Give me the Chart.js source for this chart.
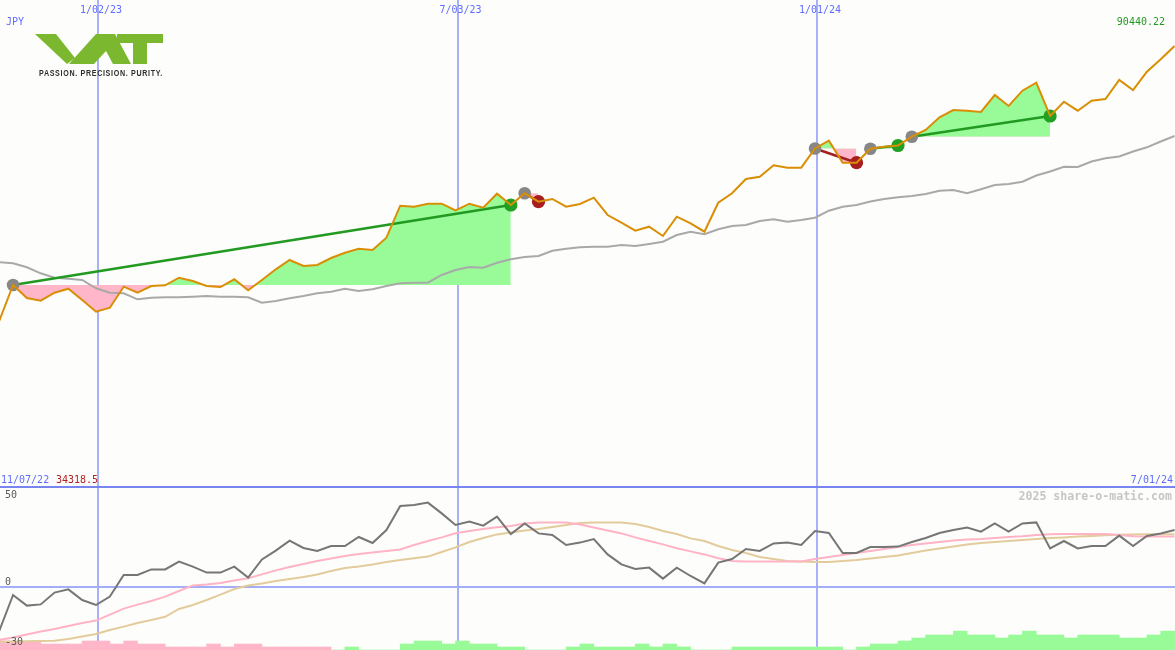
<!DOCTYPE html>
<html>
<head>
<meta charset="utf-8">
<script src="https://cdn.jsdelivr.net/npm/chart.js@4.4.1/dist/chart.umd.min.js"></script>
<style>
  html, body { margin: 0; padding: 0; background: #fdfefb; }
  #wrap { position: relative; width: 1175px; height: 650px; overflow: hidden; background: #fdfefb; }
  #top { position: absolute; left: 0; top: 0; width: 1175px; height: 487px; }
  #bottom { position: absolute; left: 0; top: 486px; width: 1175px; height: 164px; background: #fdfefb; }
</style>
</head>
<body>
<div id="wrap">
  <canvas id="top" width="1175" height="487"></canvas>
  <canvas id="bottom" width="1175" height="164"></canvas>
</div>
<script>
// weekly data, week 0 = week ending Sun 1 Jan 2023
const firstWeek = -8;

// weekly close (JPY)
const price = [
  34318.5, 34043, 41426, 38760, 38206, 39847, 40667, 38350, 35951, 36771,
  41078, 39847, 41221, 41365, 42923, 42246, 41221, 41016, 42595, 40339,
  42452, 44646, 46553, 45323, 45528, 46963, 48050, 48871, 48604, 51126,
  57689, 57484, 58099, 58099, 56746, 58099, 57279, 60150, 57833, 60232,
  58509, 59063, 57484, 58038, 59330, 55782, 54203, 52562, 53382, 51475,
  55433, 54080, 52357, 58304, 60232, 63165, 63636, 65974, 65482, 65482,
  69420, 71019, 66507, 66507, 69379, 69789, 70035, 71839, 73214, 75818,
  77315, 77172, 76905, 80391, 78135, 81273, 82914, 76085, 79017, 77172,
  79222, 79571, 83468, 81417, 85170, 87713, 90440.22
];

// moving average (grey)
const average = [
  46348, 46081, 45876, 45056, 43826, 42923, 42718, 42452, 40749, 39847,
  39724, 38494, 38822, 38904, 38904, 39027, 39170, 39027, 39027, 38904,
  37796, 38145, 38699, 39170, 39724, 40052, 40667, 40196, 40544, 41221,
  41775, 41898, 41898, 43477, 44502, 45118, 44974, 45999, 46697, 47168,
  47373, 48460, 48871, 49158, 49281, 49281, 49629, 49424, 49834, 50306,
  51680, 52357, 51824, 52849, 53526, 53731, 54551, 54898, 54408, 54756,
  55228, 56664, 57484, 57833, 58550, 59063, 59412, 59678, 60088, 60765,
  60909, 60232, 61052, 61934, 62139, 62611, 63882, 64703, 65687, 65626,
  66754, 67410, 67779, 68804, 69665, 70855, 71983
];

// lower panel: oscillator and its two signal lines
const osc = [
  -25, -22, -4, -9.3, -8.7, -2.8, -1.2, -6.5, -9, -4.8,
  6, 6, 8.8, 8.8, 12.7, 10.2, 7.2, 7.2, 10.2, 4.7,
  13.8, 18.2, 23.2, 19.5, 18, 20.5, 20.5, 25, 22, 28.5,
  40.5, 41, 42.2, 36.8, 31, 32.7, 30.7, 35.2, 26.5, 31.8,
  26.8, 26, 21, 22.2, 24, 16.3, 11.3, 9, 9.7, 4.2,
  9.7, 5.5, 1.8, 12.2, 14, 19, 18, 21.8, 22.3, 21,
  28, 27, 17, 17, 20, 20, 20.2, 22.5, 24.5, 27,
  28.5, 29.7, 27.7, 31.8, 27.7, 31.8, 32.3, 19.3, 23, 19.3,
  20.5, 20.5, 25.7, 20.5, 25.5, 26.8, 28.5
];
const oscFast = [
  -27.5, -26.5, -25.3, -23.8, -22.3, -21, -19.5, -18, -16.8, -13.8,
  -10.8, -8.8, -7, -4.8, -2, 0.8, 1.3, 2, 3.3, 4.4,
  6.3, 8.3, 10, 11.5, 13, 14.3, 15.5, 16.5, 17.3, 18,
  18.8, 21, 23, 24.8, 26.9, 28, 29, 29.9, 30.5, 31.8,
  32.2, 32.2, 32.2, 31.3, 29.8, 28.3, 26.8, 24.8, 23, 21.3,
  19.4, 17.8, 16.3, 14.4, 13, 12.7, 12.7, 12.7, 12.7, 12.8,
  14, 15, 16, 17, 18, 19, 20, 21, 21.8, 22.5,
  23.2, 23.7, 24, 24.5, 25, 25.4, 26, 26.4, 26.5, 26.5,
  26.5, 26.5, 26, 25.4, 25.2, 25.2, 25.2
];
const oscSlow = [
  -27.5, -27.4, -27.3, -27.1, -27, -26.9, -26, -24.8, -23.5, -21.5,
  -19.8, -18, -16.5, -14.9, -11, -9, -6.5, -3.8, -1, 0.7,
  1.8, 3, 4, 5, 6.3, 8, 9.5, 10.3, 11.3, 12.5,
  13.5, 14.4, 15.2, 17.5, 19.8, 22.5, 24.5, 26.3, 27.3, 28.3,
  29, 30, 31, 32, 32.2, 32.2, 32.2, 31.5, 30, 28,
  26.5, 24.3, 23, 20.5, 18.5, 17, 15, 14, 13, 12.7,
  12.5, 12.5, 13, 13.5, 14.3, 15, 15.8, 17, 18.3, 19.3,
  20.3, 21.3, 22, 22.5, 23, 23.5, 24, 24.5, 24.8, 25.2,
  25.5, 25.9, 26.1, 26.3, 26.4, 26.4, 26.4
];
// histogram strength, negative = pink
const hist = [
  -3, -3, -2.7, -2.7, -2, -2, -2, -3, -3, -2,
  -3, -2, -2, -1, -1, -1, -2, -1, -2, -2,
  -1, -1, -1, -1, -1, 0, 1, 0, 0, 0,
  2, 3, 3, 2, 3, 2, 2, 1, 1, 0,
  0, 0, 1, 2, 1, 1, 1, 2, 1, 2,
  1, 0, 0, 0, 1, 1, 1, 1, 1, 1,
  1, 1, 0, 1, 2, 2, 3, 4, 5, 5,
  6.3, 5, 5, 4, 5, 6.3, 5, 5, 4, 5,
  5, 5, 4, 4, 5, 6.3, 6.3
];

// trades (week numbers)
const tradeEntry = [-6, 31, 52, 56, 59];
const tradeExit = [30, 32, 55, 58, 69];

// date lines, in days from Mon 2 Jan 2023
const dateTicks = [0, 182, 364];
const dateLabels = ['1/02/23', '7/03/23', '1/01/24'];
const oscTicks = [50, 0, -30];

const startLabel = '11/07/22';
const endLabel = '7/01/24';
const currency = 'JPY';

const GREEN_FILL = '#98fb98';
const PINK_FILL = '#ffb6c8';
const MONO = '"DejaVu Sans Mono", monospace';

const dayOf = w => w * 7 - 1;
const idx = w => w - firstWeek;
const toPoints = arr => arr.map((v, i) => ({ x: dayOf(i + firstWeek), y: v }));
const pricePts = toPoints(price);

const xMin = -49.61;
const xMax = 545.23;

const baseOptions = (yScales) => ({
  responsive: false,
  animation: false,
  events: [],
  layout: { padding: 0, autoPadding: false },
  plugins: { legend: { display: false }, tooltip: { enabled: false } },
  elements: { line: { tension: 0 }, point: { radius: 0 } },
  scales: Object.assign({
    x: { type: 'linear', display: false, min: xMin, max: xMax, offset: false }
  }, yScales)
});

function drawDateLines(chart) {
  const { ctx, chartArea, scales } = chart;
  ctx.save();
  ctx.strokeStyle = '#a6b1fa';
  ctx.lineWidth = 2;
  dateTicks.forEach(d => {
    const x = Math.round(scales.x.getPixelForValue(d));
    ctx.beginPath();
    ctx.moveTo(x, chartArea.top);
    ctx.lineTo(x, chartArea.bottom);
    ctx.stroke();
  });
  ctx.restore();
}

function drawLogo(ctx) {
  ctx.save();
  ctx.fillStyle = '#7cb82f';
  const poly = p => {
    ctx.beginPath();
    p.forEach(([x, y], i) => i ? ctx.lineTo(x, y) : ctx.moveTo(x, y));
    ctx.closePath();
    ctx.fill();
  };
  poly([[35, 34], [56, 34], [75, 58], [67, 64]]);
  poly([[69, 64], [96, 34], [115, 34], [131, 64], [113, 64], [106, 51], [94, 64]]);
  poly([[117, 34], [163, 34], [163, 43], [147, 43], [147, 64], [133, 64], [133, 43], [117, 43]]);
  ctx.fillStyle = '#2e2e2e';
  ctx.font = 'bold 8.5px "Liberation Sans", Arial, sans-serif';
  ctx.letterSpacing = '0.8px';
  ctx.textBaseline = 'alphabetic';
  ctx.fillText('PASSION. PRECISION. PURITY.', 39, 75.5, 124);
  ctx.restore();
}

const topPlugin = {
  id: 'topDecor',
  beforeDatasetsDraw(chart) {
    drawDateLines(chart);
  },
  afterDraw(chart) {
    const { ctx, scales } = chart;
    ctx.save();
    ctx.font = '10px ' + MONO;
    ctx.textBaseline = 'alphabetic';
    ctx.fillStyle = '#5f6cff';
    ctx.textAlign = 'center';
    dateTicks.forEach((d, i) => {
      ctx.fillText(dateLabels[i], scales.x.getPixelForValue(d) + 3, 13);
    });
    ctx.textAlign = 'left';
    ctx.fillText(currency, 6, 25);
    ctx.fillText(startLabel, 1, 483);
    ctx.textAlign = 'right';
    ctx.fillText(endLabel, 1173, 483);
    ctx.fillStyle = '#229922';
    ctx.fillText(String(price[price.length - 1]), 1165, 25);
    ctx.textAlign = 'left';
    ctx.fillStyle = '#b01e1e';
    ctx.fillText(String(price[0]), 56, 483);
    ctx.restore();
    drawLogo(ctx);
  }
};

const fillSets = tradeEntry.map((e, t) => ({
  data: pricePts.slice(idx(e), idx(tradeExit[t]) + 1),
  borderWidth: 0,
  pointRadius: 0,
  fill: { target: { value: price[idx(e)] }, above: GREEN_FILL, below: PINK_FILL },
  order: 10
}));

const isWin = t => price[idx(tradeExit[t])] >= price[idx(tradeEntry[t])];

const tradeLineSets = tradeEntry.map((e, t) => ({
  data: [pricePts[idx(e)], pricePts[idx(tradeExit[t])]],
  borderColor: isWin(t) ? '#229a22' : '#a32020',
  borderWidth: 2.5,
  pointRadius: 0,
  fill: false,
  order: 4
}));

new Chart(document.getElementById('top'), {
  type: 'line',
  data: {
    datasets: [
      ...fillSets,
      {
        data: toPoints(average),
        borderColor: '#a9a9a9',
        borderWidth: 2,
        pointRadius: 0,
        fill: false,
        order: 6
      },
      ...tradeLineSets,
      {
        data: tradeEntry.map(e => pricePts[idx(e)]),
        showLine: false,
        pointRadius: 6.3,
        pointBorderWidth: 0,
        pointBackgroundColor: '#878787',
        order: 3
      },
      {
        data: tradeExit.map(x => pricePts[idx(x)]),
        showLine: false,
        pointRadius: 6.6,
        pointBorderWidth: 0,
        pointBackgroundColor: tradeExit.map((x, t) => isWin(t) ? '#23a023' : '#a81e1e'),
        order: 2
      },
      {
        data: pricePts,
        borderColor: '#d98e05',
        borderWidth: 2,
        pointRadius: 0,
        fill: false,
        order: 1
      }
    ]
  },
  options: baseOptions({
    y: { type: 'linear', display: false, min: 0, max: 99874 }
  }),
  plugins: [topPlugin]
});

const bottomPlugin = {
  id: 'bottomDecor',
  beforeDatasetsDraw(chart) {
    const { ctx, chartArea, scales } = chart;
    drawDateLines(chart);
    ctx.save();
    ctx.lineWidth = 2;
    ctx.strokeStyle = '#a3adf8';
    let y = Math.round(scales.y.getPixelForValue(0));
    ctx.beginPath(); ctx.moveTo(chartArea.left, y); ctx.lineTo(chartArea.right, y); ctx.stroke();
    ctx.strokeStyle = '#7884f0';
    y = Math.round(scales.y.getPixelForValue(50));
    ctx.beginPath(); ctx.moveTo(chartArea.left, y); ctx.lineTo(chartArea.right, y); ctx.stroke();
    ctx.restore();
  },
  afterDraw(chart) {
    const { ctx, scales } = chart;
    ctx.save();
    ctx.font = '10px ' + MONO;
    ctx.fillStyle = '#5a5a5a';
    ctx.textAlign = 'left';
    ctx.textBaseline = 'middle';
    oscTicks.forEach(v => {
      let y = scales.y.getPixelForValue(v);
      if (v === 50) y += 8;
      else if (v === 0) y -= 5;
      else y -= 5;
      ctx.fillText(String(v), 5, y);
    });
    ctx.font = 'bold 11.6px ' + MONO;
    ctx.fillStyle = '#c6c6c6';
    ctx.textAlign = 'right';
    ctx.textBaseline = 'alphabetic';
    ctx.fillText('2025 share-o-matic.com', 1172, 14);
    ctx.restore();
  }
};

new Chart(document.getElementById('bottom'), {
  type: 'line',
  data: {
    datasets: [
      {
        type: 'bar',
        data: hist.map((v, i) => ({ x: dayOf(i + firstWeek) + 3.5, y: Math.abs(v) })),
        backgroundColor: hist.map(v => v < 0 ? PINK_FILL : GREEN_FILL),
        borderWidth: 0,
        barPercentage: 1,
        categoryPercentage: 1,
        yAxisID: 'yh',
        order: 5
      },
      { data: toPoints(oscSlow), borderColor: '#e3cb9c', borderWidth: 2, pointRadius: 0, fill: false, order: 4 },
      { data: toPoints(oscFast), borderColor: '#ffb3c4', borderWidth: 2, pointRadius: 0, fill: false, order: 3 },
      { data: toPoints(osc), borderColor: '#767676', borderWidth: 2, pointRadius: 0, fill: false, order: 1 }
    ]
  },
  options: baseOptions({
    y: { type: 'linear', display: false, min: -31.5, max: 50.5 },
    yh: { type: 'linear', display: false, min: 0, max: 164 / 3 }
  }),
  plugins: [bottomPlugin]
});
</script>
</body>
</html>
